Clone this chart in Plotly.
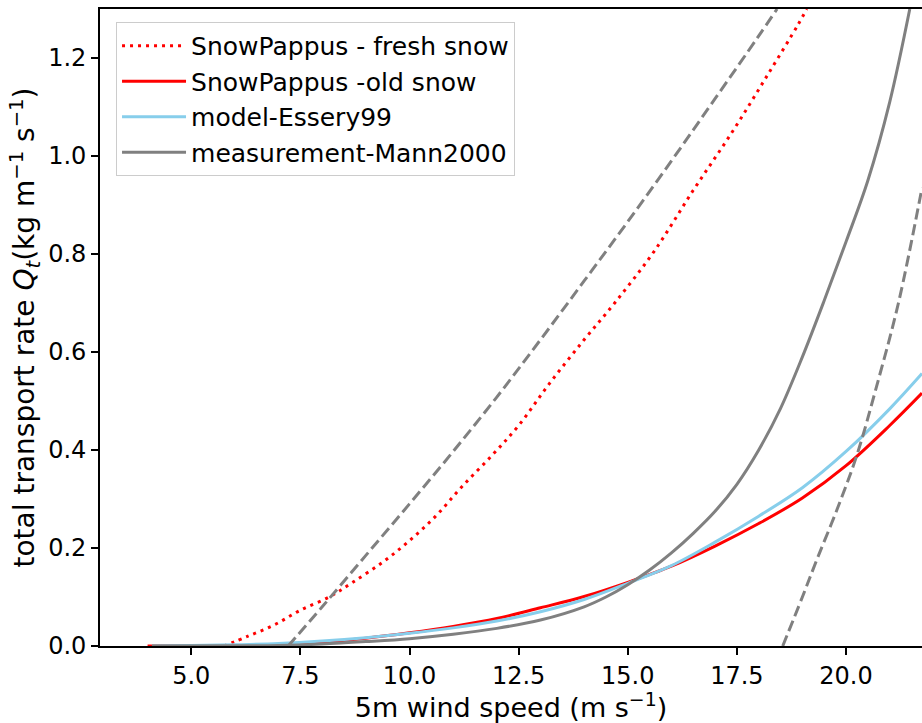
import plotly.graph_objects as go

# wind speed (m/s) and transport rate values
fresh_x = [5.74, 6.3, 6.9, 7.5, 8.2, 8.7, 9.4, 10.0, 10.6, 11.2, 11.9, 12.5, 13.2, 14.0,
           14.7, 15.6, 16.5, 17.4, 18.2, 18.9, 19.1]
fresh_y = [0.0, 0.02, 0.043, 0.073, 0.102, 0.13, 0.172, 0.215, 0.265, 0.325, 0.39, 0.45,
           0.535, 0.625, 0.70, 0.805, 0.93, 1.05, 1.165, 1.268, 1.30]

old_x = [4.0, 5.0, 6.0, 7.0, 8.0, 9.0, 10.0, 11.0, 12.0, 13.0, 14.0, 15.0, 16.0, 17.0,
         18.0, 19.0, 20.0, 21.0, 21.74]
old_y = [0.0, 0.0002, 0.001, 0.003, 0.008, 0.016, 0.027, 0.04, 0.056, 0.078, 0.101, 0.13,
         0.163, 0.204, 0.25, 0.302, 0.368, 0.45, 0.516]

essery_x = [4.1, 5.0, 6.0, 7.0, 8.0, 9.0, 10.0, 11.0, 12.0, 13.0, 14.0, 15.0, 16.0, 17.0,
            18.0, 19.0, 20.0, 21.0, 21.74]
essery_y = [0.0, 0.0008, 0.0025, 0.005, 0.01, 0.017, 0.026, 0.037, 0.051, 0.07, 0.095,
            0.128, 0.164, 0.212, 0.265, 0.323, 0.397, 0.484, 0.556]

mann_x = [4.1, 6.0, 7.0, 8.0, 9.0, 10.0, 11.0, 12.0, 13.0, 14.0, 14.5, 15.0, 15.5, 16.0,
          16.5, 17.0, 17.5, 18.0, 18.5, 19.0, 19.5, 20.0, 20.5, 21.0, 21.46]
mann_y = [0.0, 0.0005, 0.001, 0.004, 0.009, 0.015, 0.024, 0.036, 0.053, 0.08, 0.1, 0.125,
          0.155, 0.19, 0.23, 0.275, 0.33, 0.40, 0.485, 0.59, 0.705, 0.825, 0.95, 1.11,
          1.30]

mann_hi_x = [7.22, 8.0, 9.0, 10.0, 11.0, 12.0, 13.0, 14.0, 15.0, 16.0, 17.0, 18.0, 18.42]
mann_hi_y = [0.0, 0.08, 0.185, 0.29, 0.397, 0.508, 0.625, 0.745, 0.866, 0.99, 1.117,
             1.245, 1.30]

mann_lo_x = [18.55, 19.0, 19.33, 19.8, 20.25, 20.7, 21.2, 21.74]
mann_lo_y = [0.0, 0.1, 0.176, 0.28, 0.39, 0.53, 0.70, 0.935]

x_ticks = [5.0, 7.5, 10.0, 12.5, 15.0, 17.5, 20.0]
y_ticks = [0.0, 0.2, 0.4, 0.6, 0.8, 1.0, 1.2]

fig = go.Figure()
fig.add_trace(go.Scatter(x=fresh_x, y=fresh_y, mode="lines", name="SnowPappus - fresh snow",
                         line=dict(color="red", width=3, dash="3px,5px", shape="spline")))
fig.add_trace(go.Scatter(x=old_x, y=old_y, mode="lines", name="SnowPappus -old snow",
                         line=dict(color="red", width=3, shape="spline")))
fig.add_trace(go.Scatter(x=essery_x, y=essery_y, mode="lines", name="model-Essery99",
                         line=dict(color="skyblue", width=3, shape="spline")))
fig.add_trace(go.Scatter(x=mann_x, y=mann_y, mode="lines", name="measurement-Mann2000",
                         line=dict(color="gray", width=3, shape="spline")))
fig.add_trace(go.Scatter(x=mann_hi_x, y=mann_hi_y, mode="lines", showlegend=False,
                         line=dict(color="gray", width=3, dash="11px,5px", shape="spline")))
fig.add_trace(go.Scatter(x=mann_lo_x, y=mann_lo_y, mode="lines", showlegend=False,
                         line=dict(color="gray", width=3, dash="11px,5px", shape="spline")))

font = dict(family="DejaVu Sans", size=24, color="black")
fig.update_layout(
    width=922, height=723,
    margin=dict(l=100, r=0, t=9, b=77),
    plot_bgcolor="white", paper_bgcolor="white",
    font=font,
    legend=dict(x=0.0195, y=0.9796, xanchor="left", yanchor="top",
                bgcolor="rgba(255,255,255,0.8)", bordercolor="#cccccc", borderwidth=1,
                font=dict(family="DejaVu Sans", size=25, color="black"),
                itemwidth=64, entrywidth=352),
    xaxis=dict(range=[2.91, 21.74], tickvals=x_ticks, ticktext=[f"{v:.1f}" for v in x_ticks],
               showgrid=False, zeroline=False, showline=True, linecolor="black",
               linewidth=1.6, mirror=True, ticks="outside", ticklen=7, tickwidth=1.6,
               tickcolor="black",
               title=dict(text="5m wind speed (m s<sup>\u22121</sup>)", standoff=8,
                          font=dict(family="DejaVu Sans", size=27, color="black"))),
    yaxis=dict(range=[0, 1.3], tickvals=y_ticks, ticktext=[f"{v:.1f}" for v in y_ticks],
               showgrid=False, zeroline=False, showline=True, linecolor="black",
               linewidth=1.6, ticks="outside", ticklen=7, tickwidth=1.6, tickcolor="black",
               title=dict(text="total transport rate <i>Q</i><sub><i>t</i></sub>(kg m<sup>\u22121</sup> s<sup>\u22121</sup>)",
                          standoff=5,
                          font=dict(family="DejaVu Sans", size=28, color="black"))),
)

fig.write_html("out.html", config={"displayModeBar": False},
               post_script="document.body.style.margin='0';")
